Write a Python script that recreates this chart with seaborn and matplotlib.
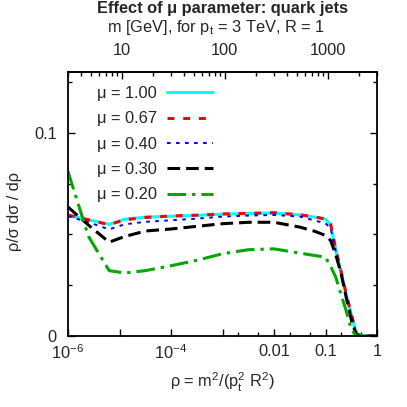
import numpy as np
import pandas as pd
import seaborn as sns
import matplotlib
matplotlib.use("Agg")
import matplotlib.pyplot as plt
from matplotlib.ticker import FixedLocator, FixedFormatter, LogLocator, NullFormatter

#%% data
rho = [1e-6, 2.5e-6, 6.3e-6, 1.26e-5, 3.2e-5, 1e-4, 3.2e-4, 1e-3, 3.2e-3, 1e-2,
       3.2e-2, 0.063, 0.1, 0.126, 0.158, 0.2, 0.25, 0.32, 0.4, 0.5, 0.7, 1.0]

mu_100 = [0.0594, 0.0572, 0.0550, 0.0575, 0.0585, 0.0590, 0.0594, 0.0600, 0.0603, 0.0606,
          0.0596, 0.0585, 0.0575, 0.0548, 0.0424, 0.0316, 0.0209, 0.0101, 0.0010, 0.0, 0.0, 0.0]
mu_067 = [0.0596, 0.0572, 0.0548, 0.0572, 0.0584, 0.0591, 0.0595, 0.0601, 0.0604, 0.0607,
          0.0597, 0.0586, 0.0576, 0.0550, 0.0428, 0.0320, 0.0212, 0.0104, 0.0012, 0.0, 0.0, 0.0]
mu_040 = [0.0590, 0.0560, 0.0525, 0.0550, 0.0562, 0.0570, 0.0578, 0.0588, 0.0593, 0.0596,
          0.0588, 0.0568, 0.0555, 0.0530, 0.0420, 0.0313, 0.0205, 0.0098, 0.0008, 0.0, 0.0, 0.0]
mu_030 = [0.0635, 0.0546, 0.0462, 0.0490, 0.0517, 0.0527, 0.0540, 0.0553, 0.0560, 0.0560,
          0.0536, 0.0515, 0.0495, 0.0470, 0.0400, 0.0310, 0.0195, 0.0075, 0.0, 0.0, 0.0, 0.0]
mu_020 = [0.0810, 0.0490, 0.0322, 0.0310, 0.0322, 0.0346, 0.0373, 0.0405, 0.0425, 0.0429,
          0.0408, 0.0396, 0.0388, 0.0343, 0.0290, 0.0205, 0.0127, 0.0030, 0.0, 0.0, 0.0, 0.0]

labels = ["μ = 1.00", "μ = 0.67", "μ = 0.40", "μ = 0.30", "μ = 0.20"]
series = [mu_100, mu_067, mu_040, mu_030, mu_020]

x_ticks = [1e-6, 1e-5, 1e-4, 1e-3, 1e-2, 1e-1, 1.0]
x_ticklabels = ["$10^{-6}$", "", "$10^{-4}$", "", "0.01", "0.1", "1"]
x_minor = [2e-3, 5e-3, 2e-2, 5e-2, 0.2, 0.5]
m_ticks = [10, 100, 1000]
m_ticklabels = ["10", "100", "1000"]
y_ticks = [0, 0.1]
y_ticklabels = ["0", "0.1"]
y_minor = [0.025, 0.05, 0.075, 0.125]

pt, R = 3000.0, 1.0
FS = 11.8

#%% styles (gnuplot look)
colors = {labels[0]: "#00ffff", labels[1]: "#ff0000", labels[2]: "#0000ff",
          labels[3]: "#000000", labels[4]: "#00a800"}
dashes = {labels[0]: "", labels[1]: (5.0, 6.3), labels[2]: (2.6, 3.9),
          labels[3]: (9.1, 4.3), labels[4]: (13.4, 4.3, 2.4, 4.3)}
widths = {labels[0]: 2.2, labels[1]: 2.2, labels[2]: 1.4, labels[3]: 2.2, labels[4]: 2.2}


def draw():
    sns.set_theme(style="white")
    plt.rcParams["font.family"] = ["Liberation Sans", "DejaVu Sans"]
    plt.rcParams["font.size"] = FS
    plt.rcParams["mathtext.fontset"] = "custom"
    plt.rcParams["mathtext.rm"] = "Liberation Sans"
    plt.rcParams["mathtext.it"] = "Liberation Sans"
    plt.rcParams["mathtext.default"] = "regular"
    plt.rcParams["lines.scale_dashes"] = False  # dashes in points

    df = pd.DataFrame({
        "rho": rho * len(series),
        "val": sum(series, []),
        "mu": np.repeat(labels, len(rho)),
    })

    fig = plt.figure(figsize=(4.07, 4.07), dpi=100)
    ax = fig.add_axes([68 / 407, 1 - 336 / 407, 309 / 407, 264 / 407])

    sns.lineplot(data=df, x="rho", y="val", hue="mu", style="mu", size="mu",
                 hue_order=labels, style_order=labels, size_order=labels,
                 palette=colors, dashes=dashes, sizes=widths,
                 estimator=None, sort=False, legend=False, ax=ax)

    ax.set_xscale("log")
    ax.set_xlim(1e-6, 1.0)
    ax.set_ylim(0, 0.13)

    ax.xaxis.set_major_locator(FixedLocator(x_ticks))
    ax.xaxis.set_major_formatter(FixedFormatter(x_ticklabels))
    ax.xaxis.set_minor_locator(FixedLocator(x_minor))
    ax.xaxis.set_minor_formatter(NullFormatter())
    ax.yaxis.set_major_locator(FixedLocator(y_ticks))
    ax.yaxis.set_major_formatter(FixedFormatter(y_ticklabels))
    ax.yaxis.set_minor_locator(FixedLocator(y_minor))

    ax.tick_params(which="both", direction="in", color="black", width=1.0,
                   bottom=True, left=True, right=True, top=False, labelsize=FS)
    ax.tick_params(which="major", length=5)
    ax.tick_params(which="minor", length=3)
    ax.tick_params(axis="x", pad=5.5)
    ax.tick_params(axis="y", pad=8)
    for s in ax.spines.values():
        s.set_color("black")
        s.set_linewidth(1.3)

    # top axis: jet mass
    top = ax.secondary_xaxis("top", functions=(lambda r: pt * R * np.sqrt(np.clip(r, 1e-300, None)),
                                               lambda m: (m / (pt * R)) ** 2))
    top.xaxis.set_major_locator(FixedLocator(m_ticks))
    top.xaxis.set_major_formatter(FixedFormatter(m_ticklabels))
    top.xaxis.set_minor_locator(LogLocator(base=10, subs=np.arange(2, 10)))
    top.xaxis.set_minor_formatter(NullFormatter())
    top.tick_params(which="both", direction="in", color="black", width=1.0, labelsize=FS, pad=10)
    top.tick_params(which="major", length=5)
    top.tick_params(which="minor", length=3)
    top.spines["top"].set_linewidth(1.3)

    # labels
    ax.set_xlabel("ρ = m$^2$/(p$_t^2$ R$^2$)", fontsize=FS, va="center")
    ax.xaxis.set_label_coords(0.5, -0.174)
    ax.set_ylabel("ρ/σ dσ / dρ", fontsize=FS, va="center")
    ax.yaxis.set_label_coords(-0.172, 0.473)
    ax.text(0.48, 1.170, "m [GeV], for p$_t$ = 3 TeV, R = 1", transform=ax.transAxes,
            ha="center", va="center", fontsize=FS)
    ax.text(0.5, 1.239, "Effect of μ parameter: quark jets", transform=ax.transAxes,
            ha="center", va="center", fontsize=FS, fontweight="bold")

    # legend: text first, sample after
    ax.legend(ax.get_lines()[:len(labels)], labels, loc="upper left",
              bbox_to_anchor=(0.094, 0.947), markerfirst=False, frameon=False,
              borderpad=0, borderaxespad=0, handlelength=2.8, handletextpad=0.6,
              labelspacing=0.63, fontsize=FS)

    fig.savefig("out.png", dpi=100)
    plt.close(fig)


#%% main
if __name__ == "__main__":
    draw()
